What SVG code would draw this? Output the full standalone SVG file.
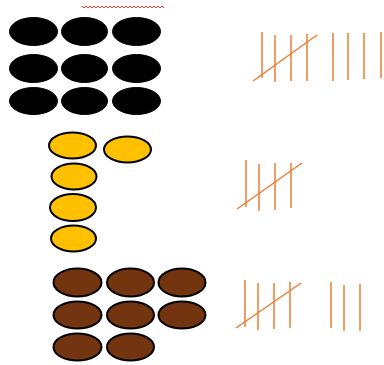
<svg xmlns="http://www.w3.org/2000/svg" width="384" height="365" viewBox="0 0 384 365">
<style>
.blk{fill:#000;stroke:#000;stroke-width:1}
.yel{fill:#FFC000;stroke:#000;stroke-width:2}
.brn{fill:#733510;stroke:#000;stroke-width:2}
.t{stroke:#ED7D31;stroke-width:1.5;fill:none}
.sq{stroke:#FF3030;stroke-width:1;fill:none}
</style>
<rect width="384" height="365" fill="#fff"/>
<path class="sq" d="M82,6 l2,2 l2,-2 l2,2 l2,-2 l2,2 l2,-2 l2,2 l2,-2 l2,2 l2,-2 l2,2 l2,-2 l2,2 l2,-2 l2,2 l2,-2 l2,2 l2,-2 l2,2 l2,-2 l2,2 l2,-2 l2,2 l2,-2 l2,2 l2,-2 l2,2 l2,-2 l2,2 l2,-2 l2,2 l2,-2 l2,2 l2,-2 l2,2 l2,-2 l2,2 l2,-2 l2,2 l2,-2 l2,2"/>
<g id="black">
<ellipse class="blk" cx="33.5" cy="31.5" rx="24" ry="14"/>
<ellipse class="blk" cx="84.5" cy="31.5" rx="23" ry="14"/>
<ellipse class="blk" cx="136.5" cy="31.5" rx="24" ry="14"/>
<ellipse class="blk" cx="33.5" cy="68.5" rx="24" ry="14"/>
<ellipse class="blk" cx="84.5" cy="68.5" rx="23" ry="14"/>
<ellipse class="blk" cx="136.5" cy="68.5" rx="24" ry="14"/>
<ellipse class="blk" cx="33.5" cy="101" rx="24" ry="13.5"/>
<ellipse class="blk" cx="84.5" cy="101" rx="23" ry="13.5"/>
<ellipse class="blk" cx="136.5" cy="101" rx="24" ry="13.5"/>
</g>
<g id="yellow">
<ellipse class="yel" cx="72.5" cy="145.5" rx="23.5" ry="13"/>
<ellipse class="yel" cx="127.5" cy="149.5" rx="23.5" ry="13"/>
<ellipse class="yel" cx="74" cy="176.5" rx="22.5" ry="13"/>
<ellipse class="yel" cx="73" cy="207.5" rx="23" ry="13.5"/>
<ellipse class="yel" cx="73.5" cy="238.5" rx="22.5" ry="13"/>
</g>
<g id="brown">
<ellipse class="brn" cx="77.5" cy="282.5" rx="24" ry="14"/>
<ellipse class="brn" cx="130.5" cy="282.5" rx="23.5" ry="14"/>
<ellipse class="brn" cx="182" cy="282.5" rx="23.5" ry="14"/>
<ellipse class="brn" cx="77.5" cy="315" rx="24" ry="13.5"/>
<ellipse class="brn" cx="130.5" cy="315" rx="23.5" ry="13.5"/>
<ellipse class="brn" cx="182" cy="315" rx="23.5" ry="13.5"/>
<ellipse class="brn" cx="77.5" cy="347" rx="24" ry="13.5"/>
<ellipse class="brn" cx="130.5" cy="347" rx="23.5" ry="13.5"/>
</g>
<g id="tally1" class="t">
<line x1="262" y1="32" x2="262" y2="78"/>
<line x1="275" y1="35" x2="275" y2="82"/>
<line x1="291" y1="35" x2="291" y2="81"/>
<line x1="307" y1="34" x2="307" y2="81"/>
<line x1="253" y1="81" x2="317" y2="35"/>
<line x1="333" y1="33" x2="333" y2="81"/>
<line x1="348" y1="33" x2="348" y2="80"/>
<line x1="364" y1="33" x2="364" y2="79"/>
<line x1="381" y1="32" x2="381" y2="78"/>
</g>
<g id="tally2" class="t">
<line x1="246" y1="160" x2="246" y2="207"/>
<line x1="259" y1="164" x2="259" y2="211"/>
<line x1="275" y1="163" x2="275" y2="210"/>
<line x1="291" y1="163" x2="291" y2="208"/>
<line x1="237" y1="209" x2="302" y2="163"/>
</g>
<g id="tally3" class="t">
<line x1="245" y1="280" x2="245" y2="327"/>
<line x1="258" y1="283" x2="258" y2="330"/>
<line x1="274" y1="283" x2="274" y2="329"/>
<line x1="290" y1="282" x2="290" y2="328"/>
<line x1="236" y1="328" x2="301" y2="283"/>
<line x1="331" y1="282" x2="331" y2="328"/>
<line x1="344" y1="285" x2="344" y2="331"/>
<line x1="360" y1="284" x2="360" y2="331"/>
</g>
</svg>
